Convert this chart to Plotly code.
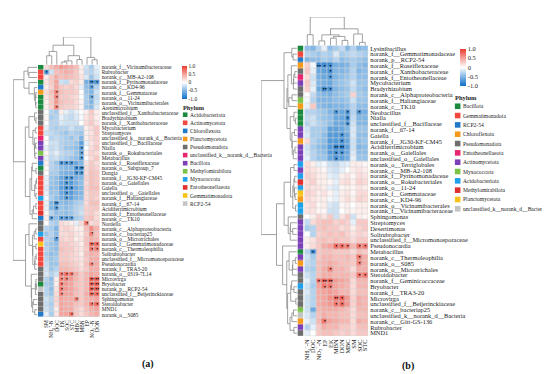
import numpy as np
import plotly.graph_objects as go

W, H = 550, 374
def px(x): return x / W
def py(y): return 1 - y / H

FONT = "Liberation Serif"

# ---------------- DATA (panel a) ----------------
cols_a = ["SM", "NH<sub>4</sub><sup>+</sup>-N", "DOC", "EK", "SOC", "STC", "MBC", "MBN", "EP",
          "NO<sub>3</sub><sup>−</sup>-N", "DON"]
rows_a = ["norank_f__Vicinamibacteraceae", "Rubrobacter", "norank_c__MB-A2-108", "norank_f__Pyrinomonadaceae",
          "norank_c__KD4-96", "norank_f__Gemmataceae", "norank_o__11-24", "norank_o__Vicinamibacterales",
          "Arenimicrobium", "unclassified_f__Xanthobacteraceae", "Bradyrhizobium", "norank_f__Xanthobacteraceae",
          "Mycobacterium", "Streptomyces", "unclassified_k__norank_d__Bacteria", "unclassified_f__Bacillaceae",
          "Nialla", "norank_o__Rokubacteriales", "Metabacillus", "norank_f__Roseiflexaceae", "norank_o__Subgroup_7",
          "Dongia", "norank_f__JG30-KF-CM45", "norank_o__Gaiellales", "Gaiella", "unclassified_o__Gaiellales",
          "norank_f__Haliangiaceae", "norank_f__67-14", "Acidiferrimicrobium", "norank_f__Entotheonellaceae",
          "norank_c__TK10", "Nordella", "norank_c__Alphaproteobacteria", "norank_c__bacteriap25",
          "norank_o__Microtrichales", "norank_f__Gemmatimonadaceae", "norank_c__Thermoleophilia",
          "Solirubrobacter", "unclassified_f__Micromonosporaceae", "Pseudonocardia", "norank_f__TRA3-20",
          "norank_o__0319-7L14", "Microvirga", "Bryobacter", "norank_p__RCP2-54",
          "unclassified_f__Beijerinckiaceae", "Sphingomonas", "Steroidobacter", "MND1", "norank_o__S085"]
z_a = [
    [0.2, 0.35, 0.45, 0.55, 0.5, 0.45, 0.35, 0.1, -0.2, -0.35, -0.1],
    [-0.75, -0.2, 0.35, 0.4, 0.45, 0.4, 0.3, 0.1, -0.25, -0.3, -0.15],
    [0.1, 0.3, 0.45, 0.35, 0.4, 0.35, 0.3, 0.15, -0.15, -0.4, -0.2],
    [0.15, 0.3, 0.5, -0.2, -0.25, 0.2, 0.25, 0.1, -0.55, -0.75, -0.7],
    [0.1, 0.25, 0.5, 0.3, 0.25, 0.3, 0.2, -0.1, -0.45, -0.65, -0.3],
    [0.2, 0.35, 0.65, 0.35, 0.3, 0.3, 0.25, 0.0, -0.4, -0.5, -0.2],
    [0.15, 0.3, 0.65, 0.3, 0.3, 0.25, 0.2, 0.0, -0.35, -0.6, -0.25],
    [0.1, 0.3, 0.55, 0.35, 0.3, 0.3, 0.2, 0.05, -0.35, -0.5, -0.2],
    [0.1, 0.25, 0.65, 0.3, 0.25, 0.25, 0.2, 0.05, -0.4, -0.45, -0.15],
    [0.0, -0.3, -0.35, 0.1, -0.1, -0.2, -0.1, 0.0, 0.1, 0.3, 0.1],
    [0.05, -0.35, -0.3, -0.1, -0.2, -0.25, -0.15, -0.05, 0.15, 0.25, 0.1],
    [0.0, -0.3, -0.3, -0.15, -0.2, -0.2, -0.2, 0.0, 0.2, 0.3, 0.15],
    [-0.1, -0.3, -0.35, -0.3, -0.3, -0.2, -0.3, -0.3, 0.1, 0.2, 0.3],
    [-0.2, -0.25, -0.3, -0.35, -0.4, -0.3, -0.35, -0.4, 0.1, 0.15, 0.3],
    [0.0, -0.3, -0.25, -0.3, -0.35, -0.4, -0.3, -0.5, 0.1, 0.2, 0.25],
    [0.0, -0.2, -0.2, -0.3, -0.35, -0.35, -0.4, -0.65, -0.1, 0.15, 0.25],
    [-0.1, -0.25, -0.2, -0.3, -0.4, -0.4, -0.45, -0.7, 0.0, 0.2, 0.3],
    [0.05, -0.2, -0.1, -0.25, -0.3, -0.3, -0.4, -0.65, 0.1, 0.25, 0.2],
    [-0.1, -0.25, -0.2, -0.3, -0.35, -0.4, -0.45, -0.7, 0.0, 0.2, 0.3],
    [0.1, -0.3, -0.4, -0.75, -0.75, -0.75, -0.6, -0.5, 0.15, 0.3, 0.2],
    [0.05, -0.3, -0.35, -0.45, -0.5, -0.5, -0.8, -0.8, 0.2, 0.3, 0.25],
    [0.0, -0.35, -0.35, -0.5, -0.55, -0.55, -0.75, -0.75, 0.2, 0.35, 0.3],
    [-0.1, -0.4, -0.45, -0.6, -0.75, -0.75, -0.55, -0.5, 0.25, 0.35, 0.3],
    [-0.1, -0.4, -0.45, -0.6, -0.75, -0.7, -0.55, -0.45, 0.2, 0.35, 0.3],
    [-0.15, -0.45, -0.45, -0.65, -0.8, -0.8, -0.6, -0.5, 0.25, 0.35, 0.35],
    [-0.1, -0.4, -0.4, -0.6, -0.75, -0.7, -0.55, -0.5, 0.2, 0.3, 0.3],
    [-0.05, -0.35, -0.45, -0.55, -0.7, -0.65, -0.5, -0.45, 0.2, 0.3, 0.25],
    [-0.1, -0.5, -0.75, -0.45, -0.5, -0.45, -0.35, -0.3, 0.2, 0.35, 0.35],
    [-0.1, -0.5, -0.7, -0.4, -0.45, -0.4, -0.3, -0.25, 0.25, 0.3, 0.3],
    [0.05, -0.3, -0.45, -0.4, -0.45, -0.4, -0.3, -0.2, 0.25, 0.3, 0.2],
    [0.1, -0.65, -0.45, -0.7, -0.7, -0.65, -0.35, -0.3, 0.3, 0.35, 0.2],
    [0.0, -0.3, -0.35, 0.2, 0.15, 0.1, -0.1, 0.2, 0.7, 0.2, 0.25],
    [-0.3, -0.35, -0.5, 0.2, 0.25, 0.2, 0.1, 0.1, 0.35, 0.6, 0.4],
    [-0.4, -0.3, -0.45, 0.2, 0.2, 0.25, 0.15, 0.1, 0.3, 0.65, 0.35],
    [-0.3, -0.35, -0.7, 0.25, 0.2, 0.25, 0.1, 0.15, 0.35, 0.45, 0.4],
    [-0.35, -0.4, -0.45, 0.3, 0.3, 0.25, 0.2, 0.1, 0.35, 0.75, 0.75],
    [-0.3, -0.4, -0.45, 0.35, 0.3, 0.3, 0.2, 0.15, 0.3, 0.7, 0.65],
    [-0.35, -0.45, -0.4, 0.3, 0.3, 0.25, 0.2, 0.1, 0.35, 0.45, 0.4],
    [-0.3, -0.4, -0.35, 0.3, 0.3, 0.25, 0.2, 0.15, 0.3, 0.45, 0.45],
    [-0.25, -0.4, -0.4, 0.35, 0.35, 0.3, 0.25, 0.15, 0.35, 0.65, 0.45],
    [-0.2, -0.4, -0.3, 0.4, 0.4, 0.35, 0.3, 0.2, 0.3, 0.45, 0.45],
    [-0.15, -0.3, -0.2, 0.7, 0.75, 0.7, 0.45, 0.3, 0.4, 0.5, 0.45],
    [-0.3, -0.45, 0.1, 0.65, 0.65, 0.55, 0.4, 0.3, 0.4, 0.8, 0.8],
    [-0.35, -0.4, 0.1, 0.7, 0.55, 0.5, 0.35, 0.3, 0.4, 0.8, 0.8],
    [-0.3, -0.45, 0.15, 0.7, 0.55, 0.5, 0.4, 0.3, 0.4, 0.8, 0.8],
    [-0.3, -0.4, 0.2, 0.65, 0.5, 0.5, 0.35, 0.3, 0.45, 0.75, 0.75],
    [-0.2, -0.3, 0.25, 0.5, 0.45, 0.45, 0.65, 0.3, 0.4, 0.45, 0.5],
    [-0.25, -0.35, 0.2, 0.5, 0.45, 0.45, 0.35, 0.3, 0.4, 0.7, 0.75],
    [-0.2, -0.3, 0.1, 0.5, 0.45, 0.45, 0.3, 0.2, 0.35, 0.45, 0.5],
    [-0.1, -0.35, 0.15, 0.5, 0.5, 0.7, 0.3, 0.2, 0.3, 0.4, 0.45],
]
# significance marks (row, column, mark)
sig_a = [(1, 0, "•"), (3, 9, "••"), (3, 10, "•"), (4, 9, "•"), (5, 2, "•"), (6, 2, "•"), (6, 9, "•"),
         (8, 2, "•"), (16, 7, "•"), (17, 7, "•"), (18, 7, "•"), (19, 3, "•"), (19, 4, "•"), (19, 5, "•"),
         (20, 6, "•"), (20, 7, "••"), (21, 6, "•"), (21, 7, "•"), (22, 4, "•"), (22, 5, "•"), (23, 4, "•"),
         (24, 4, "•"), (24, 5, "•"), (25, 4, "•"), (26, 4, "•"), (27, 2, "••"), (28, 2, "•"),
         (30, 1, "•"), (30, 3, "•"), (30, 4, "•"), (30, 5, "•"), (31, 8, "•"), (33, 9, "•"), (34, 2, "•"),
         (35, 9, "••"), (35, 10, "•"), (36, 9, "•"), (36, 10, "•"), (39, 9, "•"), (41, 3, "•"), (41, 4, "•"),
         (41, 5, "•"), (42, 3, "•"), (42, 4, "•"), (42, 9, "••"), (42, 10, "••"), (43, 3, "•"),
         (43, 9, "••"), (43, 10, "••"), (44, 3, "•"), (44, 9, "••"), (44, 10, "••"), (45, 3, "•"),
         (45, 9, "••"), (45, 10, "•"), (46, 6, "•"), (47, 9, "•"), (47, 10, "•"), (49, 5, "•")]
phylum_a = ["Acidobacteriota", "Actinomycetota", "Actinomycetota", "Acidobacteriota", "Chloroflexota",
            "Planctomycetota", "Acidobacteriota", "Acidobacteriota", "Acidobacteriota", "Pseudomonadota",
            "Pseudomonadota", "Pseudomonadota", "Actinomycetota", "Actinomycetota",
            "unclassified_k__norank_d__Bacteria", "Bacillota", "Bacillota", "Methylomirabilota", "Bacillota",
            "Chloroflexota", "Acidobacteriota", "Pseudomonadota", "Actinomycetota", "Actinomycetota",
            "Actinomycetota", "Actinomycetota", "Myxococcota", "Actinomycetota", "Actinomycetota",
            "Entotheonellaeota", "Chloroflexota", "Pseudomonadota", "Pseudomonadota", "Myxococcota",
            "Actinomycetota", "Gemmatimonadota", "Actinomycetota", "Actinomycetota", "Actinomycetota",
            "Actinomycetota", "Pseudomonadota", "Pseudomonadota", "Pseudomonadota", "Acidobacteriota",
            "RCP2-54", "Pseudomonadota", "Pseudomonadota", "Pseudomonadota", "Pseudomonadota", "Chloroflexota"]
legend_a = ["Acidobacteriota", "Actinomycetota", "Chloroflexota", "Planctomycetota", "Pseudomonadota",
            "unclassified_k__norank_d__Bacteria", "Bacillota", "Methylomirabilota", "Myxococcota",
            "Entotheonellaeota", "Gemmatimonadota", "RCP2-54"]

# ---------------- DATA (panel b) ----------------
cols_b = ["NH<sub>4</sub><sup>+</sup>-N", "DOC", "NO<sub>3</sub><sup>−</sup>-N", "EP", "EK", "MBN", "DON",
          "MBC", "SM", "SOC", "STC"]
rows_b = ["Lysinibacillus", "norank_f__Gemmatimonadaceae", "norank_p__RCP2-54", "norank_f__Roseiflexaceae",
          "norank_f__Xanthobacteraceae", "norank_f__Entotheonellaceae", "Mycobacterium", "Bradyrhizobium",
          "norank_c__Alphaproteobacteria", "norank_f__Haliangiaceae", "norank_c__TK10", "Neobacillus", "Nialla",
          "unclassified_f__Bacillaceae", "norank_f__67-14", "Gaiella", "norank_f__JG30-KF-CM45",
          "Acidiferrimicrobium", "norank_o__Gaiellales", "unclassified_o__Gaiellales", "norank_o__Terriglobales",
          "norank_c__MB-A2-108", "norank_f__Pyrinomonadaceae", "norank_o__Rokubacteriales", "norank_o__11-24",
          "norank_f__Gemmataceae", "norank_c__KD4-96", "norank_o__Vicinamibacterales",
          "norank_f__Vicinamibacteraceae", "Sphingomonas", "Streptomyces", "Desertimonas", "Solirubrobacter",
          "unclassified_f__Micromonosporaceae", "Pseudonocardia", "Metabacillus", "norank_c__Thermoleophilia",
          "norank_o__S085", "norank_o__Microtrichales", "Steroidobacter", "norank_f__Geminicoccaceae",
          "Bryobacter", "norank_f__TRA3-20", "Microvirga", "unclassified_f__Beijerinckiaceae",
          "norank_c__bacteriap25", "unclassified_k__norank_d__Bacteria", "norank_c__Gitt-GS-136",
          "Rubrobacter", "MND1"]
z_b = [
    [-0.45, -0.5, -0.3, -0.1, -0.45, -0.35, -0.25, -0.5, -0.3, -0.5, -0.45],
    [-0.3, -0.35, -0.4, -0.3, -0.35, -0.15, -0.35, -0.3, -0.25, -0.3, -0.35],
    [-0.5, -0.45, -0.45, -0.35, -0.4, -0.3, -0.45, -0.4, -0.35, -0.4, -0.45],
    [0.25, -0.05, -0.8, -0.8, -0.8, -0.55, -0.55, -0.5, -0.35, -0.45, -0.5],
    [0.3, -0.1, -0.6, -0.65, -0.75, -0.5, -0.5, -0.45, -0.3, -0.5, -0.45],
    [0.2, -0.2, -0.55, -0.6, -0.7, -0.5, -0.45, -0.4, -0.3, -0.45, -0.45],
    [0.3, -0.15, -0.5, -0.55, -0.6, -0.45, -0.4, -0.35, -0.2, -0.4, -0.4],
    [0.25, -0.1, -0.6, -0.8, -0.75, -0.5, -0.45, -0.4, -0.25, -0.4, -0.45],
    [0.0, -0.25, -0.45, -0.5, -0.55, -0.45, -0.4, -0.35, 0.25, -0.35, -0.4],
    [-0.05, -0.3, -0.5, -0.5, -0.5, -0.45, -0.45, -0.4, -0.2, -0.4, -0.4],
    [-0.1, 0.3, -0.45, -0.5, -0.55, -0.5, -0.5, -0.45, -0.3, -0.45, -0.45],
    [-0.3, -0.3, -0.35, -0.4, -0.5, -0.7, -0.6, -0.75, -0.3, -0.7, -0.55],
    [-0.25, -0.2, -0.35, -0.4, -0.45, -0.6, -0.6, -0.8, -0.25, -0.5, -0.5],
    [-0.3, -0.2, -0.3, -0.35, -0.45, -0.6, -0.6, -0.75, -0.2, -0.5, -0.5],
    [-0.2, -0.35, -0.35, -0.4, -0.65, -0.65, -0.6, -0.5, -0.15, -0.4, -0.4],
    [-0.15, -0.35, -0.35, -0.45, -0.7, -0.7, -0.75, -0.6, -0.15, -0.45, -0.45],
    [0.2, -0.3, -0.4, -0.45, -0.7, -0.7, -0.75, -0.6, -0.2, -0.45, -0.4],
    [-0.2, -0.35, -0.45, -0.5, -0.7, -0.85, -0.85, -0.65, -0.2, -0.5, -0.45],
    [-0.15, -0.3, -0.4, -0.45, -0.7, -0.8, -0.75, -0.6, -0.15, -0.45, -0.45],
    [-0.1, -0.3, -0.4, -0.4, -0.6, -0.75, -0.65, -0.55, -0.1, -0.4, -0.4],
    [0.2, 0.1, -0.1, -0.05, -0.2, -0.25, -0.15, -0.1, 0.1, 0.1, 0.05],
    [0.2, 0.15, 0.1, 0.05, -0.15, -0.2, -0.1, 0.0, 0.1, 0.15, 0.1],
    [0.25, 0.2, 0.1, 0.1, -0.1, -0.15, 0.1, 0.15, 0.05, 0.2, 0.15],
    [0.2, 0.25, 0.1, 0.1, 0.05, -0.1, 0.15, 0.2, 0.1, 0.25, 0.2],
    [0.2, 0.15, 0.15, 0.1, -0.1, -0.15, 0.05, 0.1, 0.05, 0.15, 0.1],
    [0.25, 0.2, 0.1, 0.15, 0.05, -0.1, 0.1, 0.15, 0.05, 0.2, 0.2],
    [0.2, 0.15, 0.1, 0.1, -0.05, -0.1, 0.1, 0.2, 0.1, 0.25, 0.2],
    [0.15, 0.2, 0.05, 0.1, -0.15, -0.2, 0.05, 0.1, 0.0, 0.1, 0.1],
    [0.15, 0.15, 0.05, 0.05, -0.2, -0.2, 0.0, 0.1, 0.05, 0.1, 0.1],
    [0.0, 0.1, 0.25, 0.15, 0.3, -0.2, 0.15, 0.3, -0.2, 0.1, 0.05],
    [-0.25, 0.2, 0.3, 0.35, 0.35, 0.25, 0.3, 0.25, -0.1, 0.3, 0.3],
    [-0.35, -0.3, 0.3, 0.35, 0.3, 0.3, 0.2, 0.25, 0.1, 0.25, 0.3],
    [0.0, -0.3, 0.25, 0.3, 0.35, 0.3, 0.35, 0.25, 0.15, 0.25, 0.2],
    [0.1, 0.15, 0.3, 0.35, 0.3, 0.35, 0.3, 0.3, 0.2, 0.3, 0.3],
    [0.1, 0.2, 0.3, 0.45, 0.5, 0.75, 0.75, 0.7, 0.4, 0.7, 0.7],
    [-0.3, -0.8, 0.3, 0.35, 0.35, 0.3, 0.3, 0.3, 0.2, 0.35, 0.3],
    [-0.2, -0.35, 0.3, 0.4, 0.4, 0.35, 0.35, 0.4, 0.3, 0.7, 0.45],
    [-0.25, -0.3, 0.35, 0.4, 0.45, 0.4, 0.35, 0.35, 0.3, 0.65, 0.45],
    [-0.3, -0.35, 0.35, 0.45, 0.65, 0.4, 0.4, 0.35, 0.2, 0.45, 0.45],
    [-0.2, -0.3, 0.35, 0.45, 0.45, 0.4, 0.4, 0.4, 0.3, 0.7, 0.7],
    [-0.1, -0.3, 0.75, 0.8, 0.8, 0.55, 0.5, 0.45, 0.2, 0.4, 0.4],
    [-0.2, -0.35, 0.5, 0.7, 0.7, 0.5, 0.45, 0.4, 0.2, 0.4, 0.4],
    [-0.15, -0.3, 0.45, 0.5, 0.55, 0.5, 0.4, 0.4, 0.2, 0.35, 0.35],
    [-0.2, -0.3, 0.45, 0.5, 0.6, 0.75, 0.8, 0.55, 0.25, 0.45, 0.4],
    [-0.2, -0.3, 0.45, 0.5, 0.55, 0.7, 0.75, 0.55, 0.25, 0.45, 0.4],
    [-0.2, -0.6, 0.4, 0.45, 0.45, 0.45, 0.4, 0.35, 0.2, 0.4, 0.4],
    [-0.15, -0.3, 0.35, 0.45, 0.4, 0.4, 0.35, 0.35, 0.2, 0.35, 0.35],
    [-0.1, -0.2, 0.4, 0.7, 0.5, 0.45, 0.4, 0.4, 0.2, 0.45, 0.4],
    [-0.3, -0.1, 0.3, 0.45, 0.4, 0.4, 0.3, 0.3, 0.2, 0.35, 0.35],
    [-0.1, 0.0, 0.3, 0.35, 0.35, 0.3, 0.25, 0.3, 0.2, 0.3, 0.3],
]
sig_b = [(3, 2, "••"), (3, 3, "•"), (3, 4, "•"), (4, 4, "•"), (5, 4, "•"), (7, 3, "••"), (7, 4, "•"),
         (11, 5, "•"), (11, 7, "•"), (11, 9, "•"), (12, 7, "•"), (13, 7, "•"), (15, 6, "•"), (16, 6, "•"),
         (17, 5, "••"), (17, 6, "••"), (18, 5, "•"), (18, 6, "•"), (19, 5, "•"),
         (34, 5, "•"), (34, 6, "•"), (34, 7, "•"), (34, 9, "•"), (34, 10, "•"), (35, 1, "•"), (36, 9, "•"),
         (37, 9, "•"), (38, 4, "•"), (39, 9, "•"), (39, 10, "•"), (40, 2, "•"), (40, 3, "••"), (40, 4, "••"),
         (41, 3, "•"), (41, 4, "•"), (43, 5, "••"), (43, 6, "•"), (44, 5, "•"), (44, 6, "•"), (47, 3, "•")]
phylum_b = ["Bacillota", "Gemmatimonadota", "RCP2-54", "Chloroflexota", "Pseudomonadota", "Entotheonellaeota",
            "Actinomycetota", "Pseudomonadota", "Pseudomonadota", "Myxococcota", "Chloroflexota", "Bacillota",
            "Bacillota", "Bacillota", "Actinomycetota", "Actinomycetota", "Chloroflexota", "Actinomycetota",
            "Actinomycetota", "Actinomycetota", "Acidobacteriota", "Actinomycetota", "Acidobacteriota",
            "Methylomirabilota", "Acidobacteriota", "Planctomycetota", "Chloroflexota", "Acidobacteriota",
            "Acidobacteriota", "Pseudomonadota", "Actinomycetota", "Actinomycetota", "Actinomycetota",
            "Actinomycetota", "Actinomycetota", "Bacillota", "Actinomycetota", "Chloroflexota", "Actinomycetota",
            "Pseudomonadota", "Pseudomonadota", "Acidobacteriota", "Pseudomonadota", "Pseudomonadota",
            "Pseudomonadota", "Myxococcota", "unclassified_k__norank_d__Bacteria", "Chloroflexota",
            "Actinomycetota", "Pseudomonadota"]
legend_b = ["Bacillota", "Gemmatimonadota", "RCP2-54", "Chloroflexota", "Pseudomonadota", "Entotheonellaeota",
            "Actinomycetota", "Myxococcota", "Acidobacteriota", "Methylomirabilota", "Planctomycetota",
            "unclassified_k__norank_d__Bacteria"]

palette = ["#1b8a3e", "#f2473f", "#1f78c8", "#f59a1b", "#6e6e6e", "#e8266f", "#7b3fb8", "#79c447",
           "#1ea0ea", "#e0302c", "#f8c21a", "#c4c4c4"]

COLORSCALE = [[0.0, "#1070c8"], [0.25, "#80b6e6"], [0.5, "#ffffff"], [0.75, "#f5a39c"], [1.0, "#ee3a2e"]]


def dendro(M):
    """Adjacency-constrained complete-linkage clustering; returns line coords (pos, height)."""
    M = np.asarray(M, dtype=float)
    D = np.sqrt(((M[:, None, :] - M[None, :, :]) ** 2).sum(-1))
    cl = [dict(m=[i], p=float(i), h=0.0) for i in range(len(M))]
    P, Hh = [], []
    while len(cl) > 1:
        best = None
        for k in range(len(cl) - 1):
            d = D[np.ix_(cl[k]["m"], cl[k + 1]["m"])].max()
            if best is None or d < best[0]:
                best = (d, k)
        d, k = best
        a, b = cl[k], cl[k + 1]
        h = max(d, a["h"], b["h"]) + 0.03
        P += [a["p"], a["p"], b["p"], b["p"], None]
        Hh += [a["h"], h, h, b["h"], None]
        cl[k:k + 2] = [dict(m=a["m"] + b["m"], p=(a["p"] + b["p"]) / 2, h=h)]
    return P, Hh, cl[0]["h"]


fig = go.Figure()


def panel(z, rows, cols, sig, phyla, legend, ax, fs, cb, leg):
    xm, ym, xs, xd, yd = ax
    nr, nc = len(rows), len(cols)
    zz = np.array(z)
    fig.add_trace(go.Heatmap(z=zz, x=list(range(nc)), y=list(range(nr)), zmin=-1, zmax=1,
                             colorscale=COLORSCALE, xgap=0.6, ygap=0.6, hoverinfo="skip",
                             xaxis=xm, yaxis=ym,
                             colorbar=dict(x=px(cb[0]), xanchor="left", y=py(cb[1]), yanchor="top",
                                           len=cb[2], lenmode="pixels", thickness=cb[3],
                                           thicknessmode="pixels", outlinewidth=0, xpad=0, ypad=0,
                                           tickvals=[1, 0.5, 0, -0.5, -1],
                                           ticktext=["1.0", "0.5", "0", "-0.5", "-1.0"], ticks="",
                                           tickfont=dict(family=FONT, size=fs, color="#222"))))
    # significance marks
    fig.add_trace(go.Scatter(x=[s[1] for s in sig], y=[s[0] + 0.05 for s in sig], text=[s[2] for s in sig],
                             mode="text", textfont=dict(size=fs * 0.95, color="black", family=FONT),
                             hoverinfo="skip", showlegend=False, xaxis=xm, yaxis=ym))
    # phylum strip
    idx = [[legend.index(p)] for p in phyla]
    n = len(legend)
    cs = []
    for i, c in enumerate(palette[:n]):
        cs += [[i / n, c], [(i + 1) / n, c]]
    fig.add_trace(go.Heatmap(z=idx, zmin=-0.5, zmax=n - 0.5, colorscale=cs, showscale=False,
                             ygap=0.3, hoverinfo="skip", xaxis=xs, yaxis=ym))
    # row dendrogram
    P, Hh, hr = dendro(zz)
    fig.add_trace(go.Scatter(x=Hh, y=P, mode="lines", line=dict(color="#8a8a8a", width=0.8),
                             hoverinfo="skip", showlegend=False, xaxis=xd, yaxis=ym))
    # column dendrogram
    Pc, Hc, hc = dendro(zz.T)
    fig.add_trace(go.Scatter(x=Pc, y=Hc, mode="lines", line=dict(color="#8a8a8a", width=0.8),
                             hoverinfo="skip", showlegend=False, xaxis=xm, yaxis=yd))
    # legend of phyla
    lx, ly, step, sq, lfs = leg
    fig.add_annotation(x=px(lx - 0.5), y=py(ly - step * 0.9), xref="paper", yref="paper", xanchor="left",
                       yanchor="middle", text="<b>Phylum</b>", showarrow=False, borderpad=0,
                       font=dict(family=FONT, size=lfs + 0.8, color="#222"))
    for i, name in enumerate(legend):
        yc = ly + step * i
        fig.add_shape(type="rect", xref="paper", yref="paper", x0=px(lx), x1=px(lx + sq),
                      y0=py(yc + sq / 2), y1=py(yc - sq / 2), fillcolor=palette[i], line_width=0)
        fig.add_annotation(x=px(lx + sq + 1.5), y=py(yc), xref="paper", yref="paper", xanchor="left",
                           yanchor="middle", text=name, showarrow=False, borderpad=0,
                           font=dict(family=FONT, size=lfs, color="#222"))
    return hr, hc


hra, hca = panel(z_a, rows_a, cols_a, sig_a, phylum_a, legend_a, ("x", "y", "x2", "x3", "y2"),
                 5.4, (172.5, 57, 33, 5), (173.5, 106, 8.1, 4.6, 5.5))
hrb, hcb = panel(z_b, rows_b, cols_b, sig_b, phylum_b, legend_b, ("x4", "y3", "x5", "x6", "y4"),
                 6.4, (452, 40, 37, 6), (446.5, 97.5, 9.35, 5.6, 5.6))

hidden = dict(visible=False, showgrid=False, zeroline=False)
ax_common = dict(showgrid=False, zeroline=False, showline=False, ticks="", ticklabelstandoff=1)

fig.update_layout(
    width=W, height=H, margin=dict(l=0, r=0, t=0, b=0),
    paper_bgcolor="white", plot_bgcolor="white", showlegend=False,
    font=dict(family=FONT, color="#222"),
    # panel a
    xaxis=dict(domain=[px(34.3), px(90)], anchor="y", range=[-0.5, 10.5], tickvals=list(range(11)),
               ticktext=cols_a, tickangle=-90, tickfont=dict(size=5.4, family=FONT, color="#222"), **ax_common),
    yaxis=dict(domain=[py(309), py(56)], anchor="x", range=[49.5, -0.5], side="right",
               tickvals=list(range(50)), ticktext=rows_a,
               tickfont=dict(size=5.4, family=FONT, color="#222"), **ax_common),
    xaxis2=dict(domain=[px(28), px(33.6)], anchor="y", range=[-0.5, 0.5], **hidden),
    xaxis3=dict(domain=[px(3), px(27.5)], anchor="y", range=[hra * 1.0, 0], **hidden),
    yaxis2=dict(domain=[py(56), py(28)], anchor="x", range=[0, hca * 1.0], **hidden),
    # panel b
    xaxis4=dict(domain=[px(295.5), px(359.5)], anchor="y3", range=[-0.5, 10.5], tickvals=list(range(11)),
                ticktext=cols_b, tickangle=-90, tickfont=dict(size=6.4, family=FONT, color="#222"), **ax_common),
    yaxis3=dict(domain=[py(328), py(36.5)], anchor="x4", range=[49.5, -0.5], side="right",
                tickvals=list(range(50)), ticktext=rows_b,
                tickfont=dict(size=6.4, family=FONT, color="#222"), **ax_common),
    xaxis5=dict(domain=[px(288.5), px(294.5)], anchor="y3", range=[-0.5, 0.5], **hidden),
    xaxis6=dict(domain=[px(252), px(288)], anchor="y3", range=[hrb * 1.0, 0], **hidden),
    yaxis4=dict(domain=[py(36.5), py(8)], anchor="x4", range=[0, hcb * 1.0], **hidden),
)

# background grid (light lines between cells)
for xr, yr, nr, nc in (("x", "y", 50, 11), ("x4", "y3", 50, 11)):
    fig.add_shape(type="rect", xref=xr, yref=yr, x0=-0.5, x1=nc - 0.5, y0=-0.5, y1=nr - 0.5,
                  fillcolor="#d4d4d4", line_width=0, layer="below")

fig.add_annotation(x=px(130), y=py(364), xref="paper", yref="paper", text="<b>(a)</b>", showarrow=False,
                   font=dict(family=FONT, size=10, color="#111"))
fig.add_annotation(x=px(407), y=py(366), xref="paper", yref="paper", text="<b>(b)</b>", showarrow=False,
                   font=dict(family=FONT, size=10, color="#111"))

fig.write_html("out.html")
